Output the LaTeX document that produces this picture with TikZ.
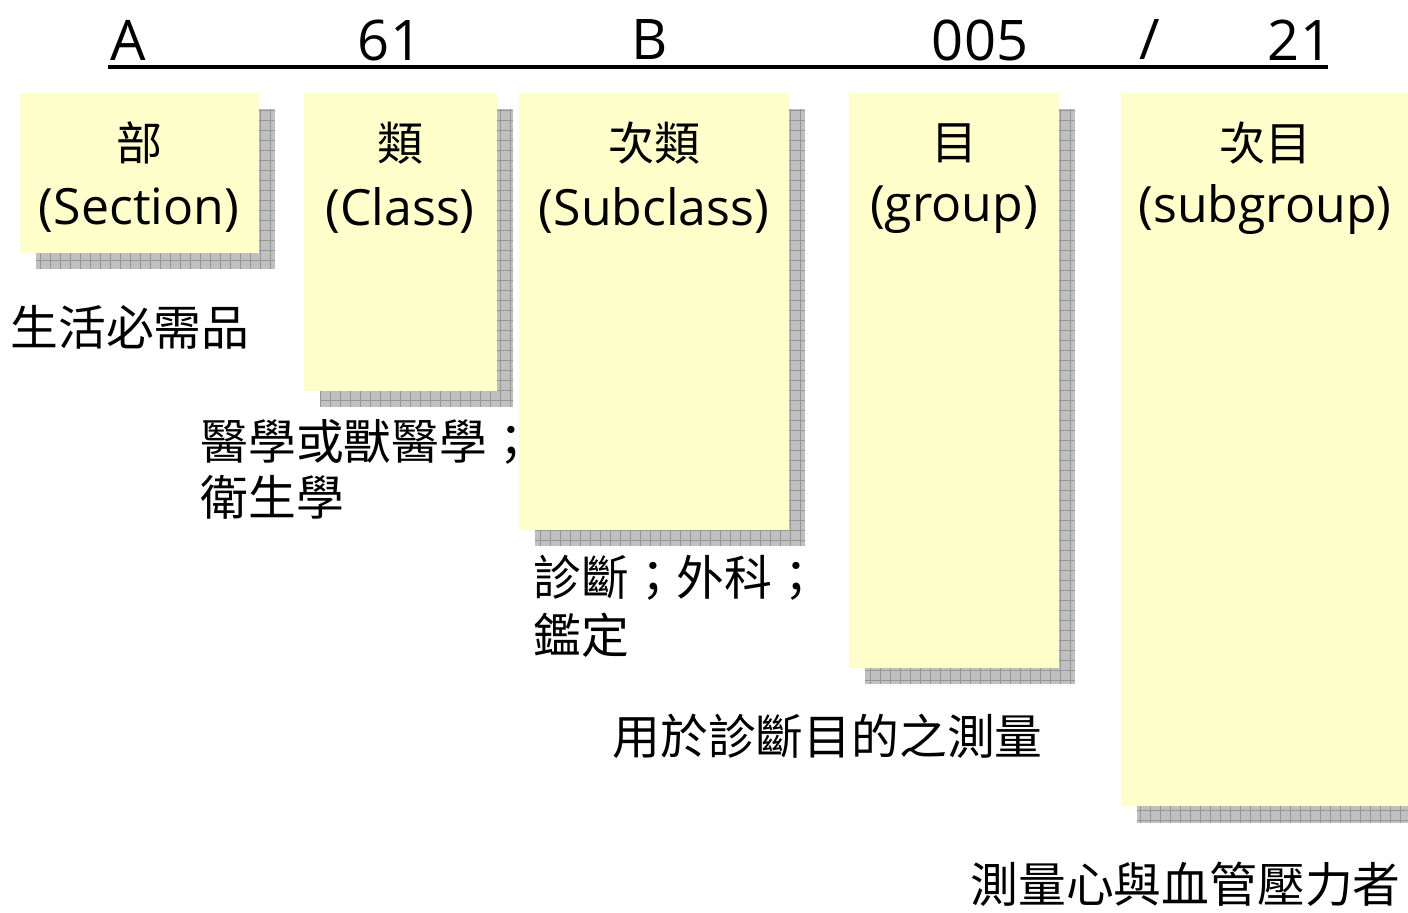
\documentclass[tikz,border=0pt]{standalone}
\usepackage{fontspec}
\setmainfont{Open Sans}
\newfontfamily\cjk{Noto Sans CJK TC}
\definecolor{noteyellow}{RGB}{255,255,204}
\definecolor{shadegray}{RGB}{192,192,192}
\definecolor{gridgray}{RGB}{150,150,150}
\tikzset{
  note/.style={fill=noteyellow},
  code/.style={inner sep=0pt, font=\fontsize{25}{30}\selectfont},
  head/.style={inner sep=0pt, font=\fontsize{28}{32}\selectfont},
  zh/.style={inner sep=0pt, font=\cjk\fontsize{23}{28}\selectfont},
  caption/.style={anchor=west, inner sep=0pt, font=\cjk\fontsize{23.9}{28}\selectfont},
}
\begin{document}
\begin{tikzpicture}[x=0.5pt, y=-0.5pt]

  \useasboundingbox (0,0) rectangle (1408,912);

  \newcommand\shadowat[4]{%
    \fill[shadegray] (#1,#2) rectangle (#3,#4);
    \begin{scope}
      \clip (#1,#2) rectangle (#3,#4);
      \draw[gridgray, line width=0.4pt, step=5pt] (#1,#2) grid (#3,#4);
    \end{scope}}

  %% code line
  \node[head] (hA)   at (128,40)  {A};
  \node[head] (h61)  at (390,40)  {61};
  \node[head] (hB)   at (650,40)  {B};
  \node[head] (h005) at (980,40)  {005};
  \node[head] (hsl)  at (1150,40) {/};
  \node[head] (h21)  at (1300,40) {21};
  \draw[line width=1.6pt] (108,67) -- (1328,67);

  %% shadows
  \shadowat{36}{109}{275}{269}
  \shadowat{320}{109}{513}{407}
  \shadowat{535}{109}{805}{546}
  \shadowat{865}{109}{1075}{684}
  \shadowat{1137}{109}{1408}{823}

  %% notes
  \fill[note] (20,93) rectangle (259,253);   %% section
  \fill[note] (304,93) rectangle (497,391);  %% class
  \fill[note] (519,93) rectangle (789,530);  %% subclass
  \fill[note] (849,93) rectangle (1059,668); %% group
  \fill[note] (1121,93) rectangle (1408,806);%% subgroup

  \node[zh]   (secz) at (139,143) {部};
  \node[code] (sec)  at (139,210) {(Section)};
  \node[zh]   (clsz) at (400,143) {類};
  \node[code] (cls)  at (400,210) {(Class)};
  \node[zh]   (subz) at (654,143) {次類};
  \node[code] (sub)  at (654,210) {(Subclass)};
  \node[zh]   (grpz) at (954,143) {目};
  \node[code] (grp)  at (954,210) {(group)};
  \node[zh]   (sgpz) at (1265,143) {次目};
  \node[code] (sgp)  at (1265,210) {(subgroup)};

  %% meanings
  \node[caption] (msec)  at (10,327)   {生活必需品};
  \node[caption] (mcls)  at (200,442)  {醫學或獸醫學；};
  \node[caption] (mcls2) at (200,497)  {衛生學};
  \node[caption] (msub)  at (533,578)  {診斷；外科；};
  \node[caption] (msub2) at (533,635)  {鑑定};
  \node[caption] (mgrp)  at (612,736)  {用於診斷目的之測量};
  \node[caption] (msgp)  at (970,884)  {測量心與血管壓力者};
\end{tikzpicture}
\end{document}
